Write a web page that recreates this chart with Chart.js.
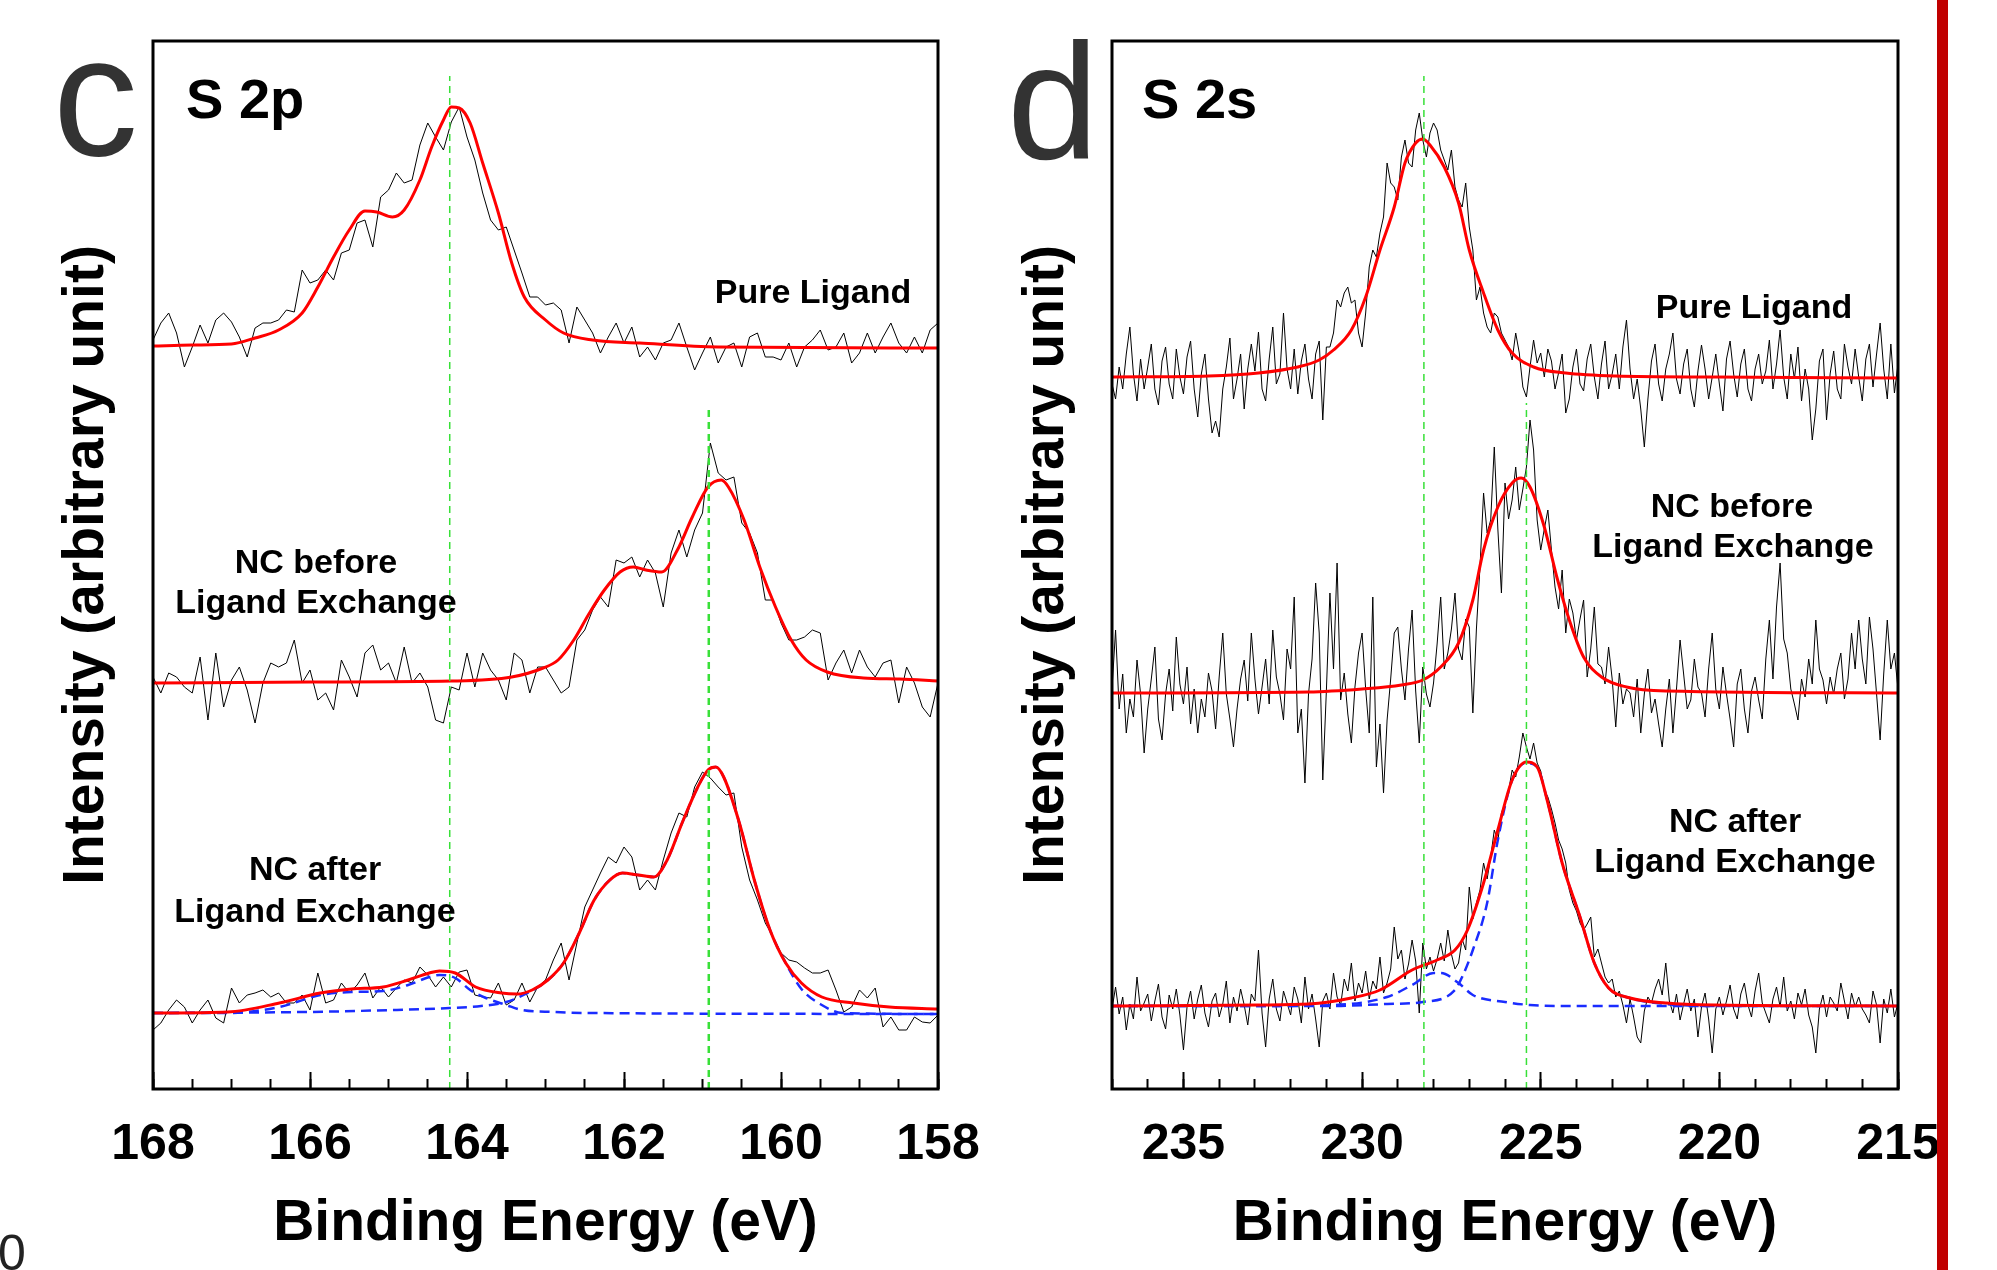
<!DOCTYPE html>
<html>
<head>
<meta charset="utf-8">
<script src="https://cdn.jsdelivr.net/npm/chart.js@4.4.0/dist/chart.umd.min.js"></script>
<style>
  html, body { margin: 0; padding: 0; background: #fff; }
  body { width: 1997px; height: 1270px; position: relative; overflow: hidden; }
  canvas { position: absolute; top: 0; }
  #c-canvas { left: 0; }
  #d-canvas { left: 960px; }
  .txt { position: absolute; font-family: 'Liberation Sans', Arial, sans-serif; line-height: 1; white-space: nowrap; color: #000; }
  .b { font-weight: bold; }
  .mid { transform: translateX(-50%); }
  .lbl { font-size: 34px; }
  .panel { font-size: 170px; color: #333; }
  .core { font-size: 56px; }
  #bar { position: absolute; left: 1937px; top: 0; width: 11px; height: 1270px; background: #c00000; }
</style>
</head>
<body>
<canvas id="c-canvas" width="1040" height="1270"></canvas>
<canvas id="d-canvas" width="1037" height="1270"></canvas>

<div class="txt panel" style="left:53px; top:11px;">c</div>
<div class="txt panel" style="left:1007px; top:20px; font-size:165px;">d</div>
<div class="txt b core" style="left:186px; top:71px;">S 2p</div>
<div class="txt b core" style="left:1142px; top:71px;">S 2s</div>

<div class="txt b lbl mid" style="left:813px; top:274px;">Pure Ligand</div>
<div class="txt b lbl mid" style="left:316px; top:544px;">NC before</div>
<div class="txt b lbl mid" style="left:316px; top:584px;">Ligand Exchange</div>
<div class="txt b lbl mid" style="left:315px; top:851px;">NC after</div>
<div class="txt b lbl mid" style="left:315px; top:893px;">Ligand Exchange</div>

<div class="txt b lbl mid" style="left:1754px; top:289px;">Pure Ligand</div>
<div class="txt b lbl mid" style="left:1732px; top:488px;">NC before</div>
<div class="txt b lbl mid" style="left:1733px; top:528px;">Ligand Exchange</div>
<div class="txt b lbl mid" style="left:1735px; top:803px;">NC after</div>
<div class="txt b lbl mid" style="left:1735px; top:843px;">Ligand Exchange</div>

<div class="txt" style="left:-2px; top:1228px; font-size:50px; color:#222;">0</div>
<div id="bar"></div>

<script>
// ---- S 2p (panel c): raw spectra, 168 -> 158 eV, 0.1 eV steps
const s2pStart = 168, s2pStep = 0.1;
const s2pPure = [
  749, 766, 776, 756, 722, 742, 764, 746, 769, 776,
  767, 752, 732, 761, 766, 766, 769, 779, 777, 819,
  806, 809, 819, 809, 836, 839, 866, 869, 842, 892,
  899, 916, 906, 909, 944, 966, 952, 939, 967, 982,
  952, 929, 896, 869, 859, 862, 839, 816, 792, 792,
  784, 786, 779, 746, 782, 769, 756, 736, 752, 766,
  746, 762, 732, 742, 729, 746, 749, 766, 742, 719,
  736, 752, 726, 742, 746, 722, 752, 756, 732, 732,
  729, 746, 722, 742, 749, 759, 739, 742, 756, 726,
  736, 756, 736, 752, 766, 746, 736, 752, 736, 759,
  766];
const s2pBefore = [
  412, 396, 416, 412, 402, 396, 432, 369, 436, 382,
  409, 422, 399, 366, 406, 426, 422, 426, 449, 406,
  419, 389, 396, 379, 429, 412, 392, 436, 444, 419,
  426, 406, 442, 406, 416, 402, 369, 366, 402, 399,
  436, 402, 436, 419, 409, 389, 436, 429, 396, 422,
  422, 409, 396, 402, 449, 459, 479, 492, 482, 529,
  526, 532, 512, 529, 516, 482, 536, 559, 532, 559,
  576, 646, 616, 609, 612, 566, 556, 536, 489, 489,
  466, 449, 449, 452, 459, 456, 409, 426, 439, 416,
  439, 422, 412, 426, 429, 386, 422, 406, 382, 372,
  406];
const s2pAfter = [
  59, 66, 79, 89, 82, 66, 79, 89, 71, 66,
  101, 86, 94, 96, 99, 92, 96, 86, 86, 94,
  79, 116, 86, 89, 106, 96, 104, 116, 91, 102,
  92, 101, 109, 106, 122, 114, 102, 112, 102, 117,
  119, 94, 92, 91, 106, 84, 89, 106, 87, 102,
  109, 129, 146, 109, 146, 182, 199, 216, 232, 226,
  242, 232, 199, 209, 199, 229, 256, 276, 272, 302,
  317, 311, 302, 294, 296, 242, 209, 189, 166, 152,
  136, 129, 127, 121, 116, 116, 119, 99, 77, 82,
  99, 91, 101, 62, 72, 59, 59, 72, 67, 66,
  74];

// fitted envelopes and components (S 2p)
const s2pPureFitX = [168.0, 167.5, 167.0, 166.7, 166.4, 166.1, 165.9, 165.7, 165.5, 165.3, 165.15, 164.95, 164.8, 164.6, 164.45, 164.3, 164.2, 164.1, 163.96, 163.8, 163.6, 163.43, 163.27, 163.0, 162.77, 162.4, 161.8, 160.8, 158.0];
const s2pPureFitY = [743, 744, 745, 751, 759, 776, 802, 832, 859, 878, 877, 872, 879, 909, 942, 969, 982, 981, 966, 926, 876, 826, 792, 769, 756, 749, 746, 742, 741];
const s2pBeforeFitX = [168.0, 166.0, 164.2, 163.43, 163.03, 162.84, 162.64, 162.44, 162.25, 162.05, 161.88, 161.72, 161.52, 161.32, 161.13, 160.93, 160.76, 160.67, 160.47, 160.27, 160.07, 159.87, 159.68, 159.41, 158.95, 158.49, 158.0];
const s2pBeforeFitY = [406, 407, 408, 412, 421, 429, 449, 476, 499, 517, 522, 519, 517, 539, 572, 602, 609, 602, 569, 522, 482, 449, 429, 417, 411, 410, 408];
const s2pAfterFitX = [168.0, 167.05, 166.39, 165.87, 165.47, 165.07, 164.75, 164.48, 164.35, 164.15, 163.89, 163.56, 163.36, 163.17, 162.97, 162.77, 162.57, 162.38, 162.18, 162.02, 161.82, 161.62, 161.45, 161.26, 161.06, 160.93, 160.83, 160.73, 160.53, 160.34, 160.14, 159.94, 159.74, 159.48, 159.08, 158.62, 158.0];
const s2pAfterFitY = [76, 77, 86, 96, 100, 102, 109, 116, 118, 116, 102, 96, 95, 99, 109, 126, 156, 189, 209, 216, 214, 212, 229, 266, 302, 319, 322, 312, 266, 209, 159, 126, 106, 92, 86, 82, 80];
const s2pCompAX = [168.0, 167.05, 166.39, 165.87, 165.47, 165.07, 164.75, 164.48, 164.35, 164.15, 163.96, 163.76, 163.5, 163.3, 162.9, 162.44, 158.0];
const s2pCompAY = [76, 76, 82, 94, 97, 98, 104, 112, 114, 111, 99, 91, 84, 79, 77, 76, 75];
const s2pCompBX = [168.0, 166.06, 164.94, 164.22, 163.82, 163.5, 163.23, 162.97, 162.77, 162.57, 162.38, 162.18, 162.02, 161.82, 161.62, 161.45, 161.26, 161.06, 160.93, 160.83, 160.73, 160.53, 160.34, 160.14, 159.94, 159.74, 159.48, 159.22, 158.0];
const s2pCompBY = [76, 77, 79, 81, 83, 87, 96, 109, 126, 156, 189, 209, 216, 214, 212, 229, 266, 302, 319, 322, 312, 266, 209, 159, 126, 100, 84, 76, 75];
const s2pMarkers = [164.22, 160.92];
const s2pMarkerTops = [1013, 684];

// ---- S 2s (panel d): raw spectra, 237 -> 215 eV, 0.1 eV steps
const s2sStart = 237, s2sStep = 0.1;
const s2sPure = [
  705, 690, 722, 700, 735, 762, 715, 688, 730, 700,
  722, 745, 700, 684, 728, 742, 705, 690, 740, 712,
  695, 732, 748, 700, 672, 715, 735, 690, 656, 668,
  652, 700, 722, 751, 690, 710, 735, 680, 720, 745,
  718, 757, 700, 688, 730, 762, 705, 715, 776, 720,
  700, 740, 695, 728, 745, 710, 690, 735, 748, 669,
  742, 742, 756, 789, 782, 796, 802, 786, 789, 756,
  742, 776, 822, 839, 832, 856, 872, 926, 906, 902,
  889, 932, 949, 926, 922, 959, 976, 949, 932, 956,
  966, 959, 939, 929, 919, 939, 902, 889, 882, 906,
  862, 839, 789, 802, 776, 762, 756, 776, 772, 756,
  749, 742, 729, 756, 736, 702, 692, 722, 749, 726,
  736, 712, 740, 728, 700, 716, 735, 676, 690, 722,
  740, 705, 698, 730, 745, 712, 690, 725, 748, 700,
  715, 735, 700, 742, 769, 720, 690, 710, 680, 642,
  690, 728, 745, 705, 688, 720, 735, 756, 710, 695,
  725, 740, 700, 682, 718, 744, 720, 690, 712, 735,
  705, 678, 730, 748, 715, 692, 725, 740, 700, 688,
  720, 735, 705, 718, 749, 700, 725, 759, 712, 690,
  735, 710, 742, 688, 720, 700, 649, 680, 728, 740,
  669, 715, 738, 700, 690, 745, 722, 705, 740, 712,
  688, 730, 745, 702, 735, 766, 720, 690, 745, 696, 725];
const s2sBefore = [
  400, 459, 380, 415, 356, 390, 372, 429, 395, 336,
  380, 410, 442, 370, 349, 395, 420, 378, 452, 405,
  385, 422, 365, 400, 356, 390, 372, 416, 398, 360,
  412, 456, 395, 370, 342, 380, 410, 429, 388, 456,
  410, 375, 402, 430, 385, 459, 412, 395, 369, 440,
  420, 492, 356, 380, 306, 395, 430, 506, 456, 309,
  398, 496, 420, 526, 389, 416, 375, 346, 402, 436,
  456, 400, 356, 492, 322, 365, 296, 369, 410, 456,
  462, 420, 389, 440, 479, 398, 346, 422, 395, 382,
  406, 445, 492, 420, 436, 460, 496, 440, 429, 470,
  462, 376, 460, 522, 596, 556, 569, 642, 560, 496,
  606, 570, 589, 622, 579, 600, 622, 669, 639, 569,
  539, 560, 579, 539, 502, 480, 519, 456, 490, 476,
  449, 470, 489, 412, 440, 482, 425, 422, 405, 442,
  410, 362, 416, 385, 400, 396, 372, 410, 356, 395,
  420, 376, 390, 365, 342, 380, 410, 356, 400, 449,
  415, 380, 389, 430, 402, 396, 372, 420, 456, 400,
  380, 422, 395, 370, 342, 405, 420, 380, 356, 398,
  412, 389, 370, 430, 469, 410, 482, 526, 450, 436,
  400, 385, 369, 410, 392, 430, 405, 469, 420, 409,
  385, 412, 395, 420, 436, 390, 410, 456, 420, 469,
  430, 405, 472, 440, 395, 349, 415, 469, 420, 436, 400];
const s2sAfter = [
  80, 102, 75, 92, 59, 85, 70, 112, 78, 86,
  95, 68, 88, 105, 72, 60, 94, 80, 100, 74,
  39, 82, 98, 70, 90, 104, 76, 62, 88, 96,
  72, 85, 108, 66, 92, 78, 100, 84, 64, 95,
  88, 139, 76, 42, 90, 110, 80, 68, 98, 86,
  74, 102, 90, 66, 112, 80, 95, 70, 42, 88,
  96, 80, 116, 92, 84, 110, 98, 126, 88, 106,
  96, 118, 90, 108, 100, 132, 96, 106, 120, 162,
  130, 139, 110, 125, 149, 128, 76, 146, 120, 132,
  118, 130, 146, 128, 159, 135, 120, 126, 150, 139,
  202, 170, 186, 199, 226, 210, 232, 259, 248, 276,
  286, 298, 319, 312, 332, 356, 342, 330, 346, 326,
  318, 299, 292, 280, 266, 249, 240, 226, 199, 186,
  178, 166, 159, 165, 172, 132, 140, 126, 112, 106,
  110, 92, 98, 84, 66, 90, 72, 52, 46, 78,
  92, 86, 100, 110, 94, 126, 88, 76, 95, 69,
  85, 100, 78, 90, 52, 82, 96, 70, 36, 80,
  92, 74, 88, 104, 80, 70, 95, 106, 84, 72,
  98, 116, 86, 76, 66, 90, 102, 82, 112, 78,
  88, 70, 96, 84, 100, 74, 62, 36, 80, 94,
  72, 92, 86, 78, 106, 88, 70, 96, 82, 92,
  80, 74, 66, 98, 84, 46, 90, 76, 100, 72, 86];

// fitted envelopes and components (S 2s)
const s2sPureFitX = [237.0, 234.3, 232.9, 231.8, 231.2, 230.8, 230.3, 229.9, 229.5, 229.1, 228.8, 228.5, 228.3, 228.1, 227.7, 227.3, 227.0, 226.6, 226.2, 225.8, 225.2, 224.3, 222.9, 220.1, 215.0];
const s2sPureFitY = [712, 713, 716, 722, 729, 739, 759, 792, 839, 882, 926, 946, 950, 944, 922, 886, 839, 796, 759, 736, 722, 716, 713, 712, 711];
const s2sBeforeFitX = [237.0, 231.5, 230.0, 228.9, 228.3, 227.8, 227.3, 226.9, 226.6, 226.2, 225.8, 225.55, 225.3, 224.9, 224.55, 224.2, 223.8, 223.3, 222.6, 221.5, 215.0];
const s2sBeforeFitY = [396, 397, 400, 404, 409, 422, 446, 489, 539, 582, 606, 611, 602, 562, 512, 469, 432, 412, 402, 398, 396];
const s2sAfterFitX = [237.0, 232.9, 231.5, 230.3, 229.5, 228.6, 227.9, 227.4, 227.05, 226.6, 226.2, 225.8, 225.4, 225.1, 224.8, 224.4, 223.9, 223.5, 223.1, 222.5, 221.5, 220.1, 215.0];
const s2sAfterFitY = [83, 84, 85, 91, 99, 119, 129, 139, 159, 206, 259, 309, 327, 322, 286, 226, 172, 126, 101, 91, 86, 84, 83];
const s2sCompAX = [237.0, 232.9, 230.8, 229.3, 228.6, 228.0, 227.8, 227.3, 226.9, 226.0, 225.3, 224.3, 215.0];
const s2sCompAY = [83, 83, 84, 92, 104, 116, 116, 106, 94, 87, 84, 83, 83];
const s2sCompBX = [237.0, 230.8, 229.3, 228.3, 227.4, 227.2, 226.9, 226.5, 226.2, 225.8, 225.4, 225.1, 224.8, 224.4, 223.9, 223.5, 223.1, 222.5, 221.5, 220.1, 215.0];
const s2sCompBY = [83, 83, 85, 87, 99, 112, 139, 186, 249, 309, 326, 322, 286, 226, 172, 126, 101, 91, 85, 83, 83];
const s2sMarkers = [228.27, 225.4];
const s2sMarkerTops = [1013, 686];

const FONT = "'Liberation Sans', Arial, sans-serif";

const onGrid = (start, step, ys) => ys.map((y, i) => ({ x: +(start - i * step).toFixed(2), y }));
const pairs = (xs, ys) => xs.map((x, i) => ({ x, y: ys[i] }));

// order: lower number is drawn on top
const raw = data => ({ data, borderColor: '#000', borderWidth: 1, showLine: true, pointRadius: 0, order: 3 });
const comp = data => ({ data, borderColor: '#1a2cff', borderWidth: 2.5, borderDash: [10, 6], showLine: true, pointRadius: 0, cubicInterpolationMode: 'monotone', order: 2 });
const fit = data => ({ data, borderColor: '#ff0000', borderWidth: 3, showLine: true, pointRadius: 0, cubicInterpolationMode: 'monotone', order: 1 });
const marker = (x, top, w) => ({ data: [{ x, y: 0 }, { x, y: top }], borderColor: '#38e038', borderWidth: w, borderDash: [7, 5], showLine: true, pointRadius: 0, order: 0 });

const frame = {
  id: 'frame',
  afterDatasetsDraw(chart) {
    const { ctx, chartArea: a } = chart;
    ctx.save();
    ctx.strokeStyle = '#000';
    ctx.lineWidth = 3;
    ctx.strokeRect(a.left, a.top, a.right - a.left, a.bottom - a.top);
    ctx.restore();
  }
};

const makeScales = (min, max, major, minor, leftWidth) => ({
  x: {
    type: 'linear', position: 'bottom', reverse: true, min, max, weight: 1,
    afterFit: s => { s.height = 181; },
    border: { display: false },
    grid: { drawOnChartArea: false, tickLength: -17, tickWidth: 2, tickColor: '#000' },
    ticks: { stepSize: major, includeBounds: false, autoSkip: false, maxRotation: 0, padding: 43, color: '#000',
      font: { family: FONT, size: 50, weight: 'bold' } },
    title: { display: true, text: 'Binding Energy (eV)', color: '#000',
      font: { family: FONT, size: 57, weight: 'bold' }, padding: { top: 0, bottom: 12 } }
  },
  xMinor: {
    type: 'linear', position: 'bottom', reverse: true, min, max, weight: 0,
    afterFit: s => { s.height = 0; },
    border: { display: false },
    grid: { drawOnChartArea: false, tickLength: -10, tickWidth: 2, tickColor: '#000' },
    ticks: { stepSize: minor, includeBounds: false, autoSkip: false, display: false }
  },
  y: {
    type: 'linear', position: 'left', min: 0, max: 1048,
    afterFit: s => { s.width = leftWidth; },
    ticks: { display: false },
    grid: { display: false },
    border: { display: false },
    title: { display: true, text: 'Intensity (arbitrary unit)', color: '#000',
      font: { family: FONT, size: 57, weight: 'bold' }, padding: { top: 53, bottom: 0 } }
  }
});

const makeChart = (id, datasets, scales, padRight) => new Chart(document.getElementById(id), {
  type: 'scatter',
  data: { datasets },
  options: {
    responsive: false, animation: false, devicePixelRatio: 1, events: [],
    layout: { padding: { left: 0, top: 41, right: padRight, bottom: 0 } },
    plugins: { legend: { display: false }, tooltip: { enabled: false } },
    scales
  },
  plugins: [frame]
});

makeChart('c-canvas', [
  marker(s2pMarkers[0], s2pMarkerTops[0], 1.5),
  marker(s2pMarkers[1], s2pMarkerTops[1], 2.5),
  comp(pairs(s2pCompAX, s2pCompAY)),
  comp(pairs(s2pCompBX, s2pCompBY)),
  fit(pairs(s2pPureFitX, s2pPureFitY)),
  fit(pairs(s2pBeforeFitX, s2pBeforeFitY)),
  fit(pairs(s2pAfterFitX, s2pAfterFitY)),
  raw(onGrid(s2pStart, s2pStep, s2pPure)),
  raw(onGrid(s2pStart, s2pStep, s2pBefore)),
  raw(onGrid(s2pStart, s2pStep, s2pAfter))
], makeScales(158, 168, 2, 0.5, 153), 102);

makeChart('d-canvas', [
  marker(s2sMarkers[0], s2sMarkerTops[0], 1.5),
  marker(s2sMarkers[1], s2sMarkerTops[1], 1.5),
  comp(pairs(s2sCompAX, s2sCompAY)),
  comp(pairs(s2sCompBX, s2sCompBY)),
  fit(pairs(s2sPureFitX, s2sPureFitY)),
  fit(pairs(s2sBeforeFitX, s2sBeforeFitY)),
  fit(pairs(s2sAfterFitX, s2sAfterFitY)),
  raw(onGrid(s2sStart, s2sStep, s2sPure)),
  raw(onGrid(s2sStart, s2sStep, s2sBefore)),
  raw(onGrid(s2sStart, s2sStep, s2sAfter))
], makeScales(215, 237, 5, 1, 152), 99);
</script>
</body>
</html>
